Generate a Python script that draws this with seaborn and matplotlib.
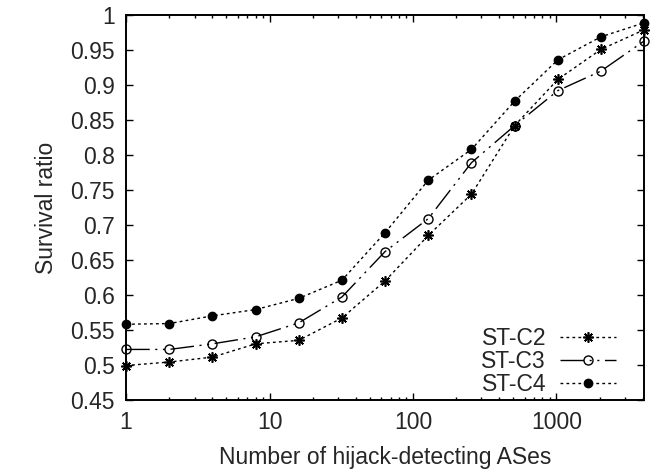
import numpy as np
import pandas as pd
import matplotlib
matplotlib.use("Agg")
import matplotlib.pyplot as plt
import seaborn as sns
from matplotlib.ticker import FuncFormatter, FixedLocator, LogLocator, NullFormatter

# data
n_ases = [1, 2, 4, 8, 16, 32, 64, 128, 256, 512, 1024, 2048, 4096]
st_c2 = [0.499, 0.504, 0.511, 0.530, 0.535, 0.567, 0.620, 0.685, 0.744, 0.842, 0.908, 0.951, 0.979]
st_c3 = [0.522, 0.522, 0.530, 0.540, 0.560, 0.597, 0.662, 0.709, 0.789, 0.842, 0.892, 0.920, 0.963]
st_c4 = [0.558, 0.559, 0.570, 0.579, 0.595, 0.621, 0.689, 0.764, 0.808, 0.877, 0.936, 0.969, 0.989]
y_ticks = [0.45, 0.5, 0.55, 0.6, 0.65, 0.7, 0.75, 0.8, 0.85, 0.9, 0.95, 1.0]

df = pd.DataFrame({"n": n_ases * 3,
                   "ratio": st_c2 + st_c3 + st_c4,
                   "scheme": ["ST-C2"] * 13 + ["ST-C3"] * 13 + ["ST-C4"] * 13})

sns.set_theme(style="ticks")
plt.rcParams['font.family'] = ['Liberation Sans', 'DejaVu Sans']
plt.rcParams['font.size'] = 16.5

fig = plt.figure(figsize=(6.5, 4.72), dpi=100)
ax = fig.add_axes([0.194, 0.153, 0.797, 0.815])

# style per series: marker, facecolor, linestyle
styles = {
    "ST-C2": dict(marker=(8, 2, 0), markersize=7.5, markerfacecolor="black", markeredgewidth=1.2,
                  linestyle=(0, (2, 2.3))),
    "ST-C3": dict(marker="o", markersize=6.5, markerfacecolor="none", markeredgewidth=1.0,
                  linestyle=(0, (17, 4, 1.5, 4, 1.5, 4))),
    "ST-C4": dict(marker="o", markersize=6, markerfacecolor="black", markeredgewidth=1.0,
                  linestyle=(0, (2, 2.3))),
}

for name, st in styles.items():
    sub = df[df["scheme"] == name]
    sns.lineplot(data=sub, x="n", y="ratio", ax=ax, color="black", linewidth=1.0,
                 markeredgecolor="black", label=name, clip_on=False, **st)

ax.set_xscale("log")
ax.set_xlim(1, 4096)
ax.set_ylim(0.45, 1.0)
ax.yaxis.set_major_locator(FixedLocator(y_ticks))
ax.yaxis.set_major_formatter(FuncFormatter(lambda v, p: "%g" % round(v, 2)))
ax.xaxis.set_major_locator(LogLocator(base=10))
ax.xaxis.set_minor_locator(LogLocator(base=10, subs=np.arange(2, 10)))
ax.xaxis.set_minor_formatter(NullFormatter())
ax.xaxis.set_major_formatter(FuncFormatter(lambda v, p: "%d" % v))

ax.tick_params(which="both", direction="in", top=True, right=True, labelsize=16.5, color="black")
ax.tick_params(which="major", length=5, width=1.0, pad=8)
ax.tick_params(which="minor", length=2.5, width=1.0)
for s in ax.spines.values():
    s.set_linewidth(1.4)
    s.set_color("black")

ax.set_xlabel("Number of hijack-detecting ASes", fontsize=16.5, labelpad=9)
ax.set_ylabel("Survival ratio", fontsize=16.5, labelpad=9)

ax.legend(loc="lower right", bbox_to_anchor=(0.972, -0.026), frameon=False, markerfirst=False,
          handlelength=2.45, handletextpad=0.6, labelspacing=0.0, fontsize=16.5, borderaxespad=0.2)

fig.savefig("out.png", dpi=100)
